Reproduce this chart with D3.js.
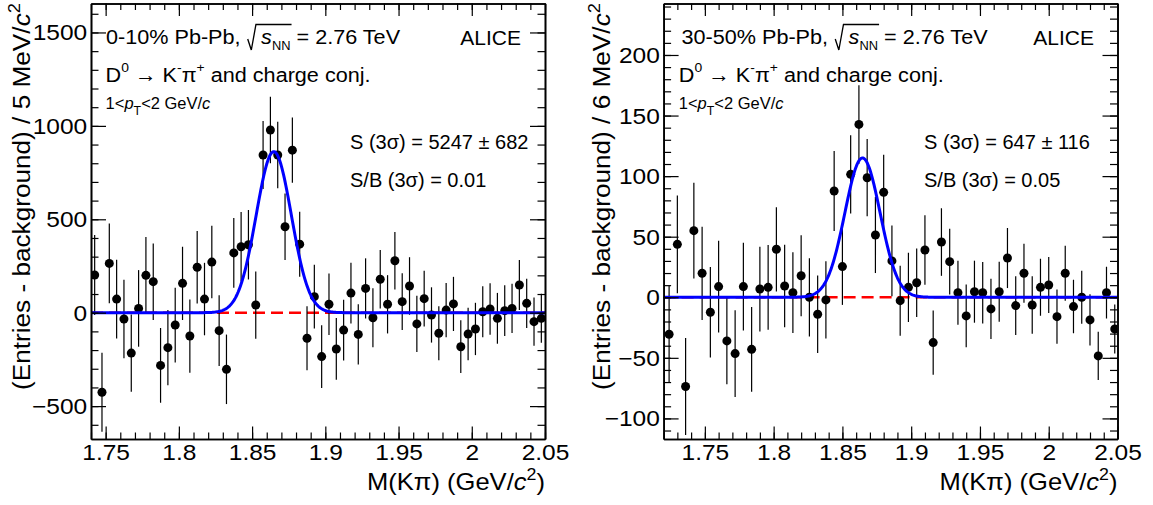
<!DOCTYPE html>
<html><head><meta charset="utf-8">
<script src="https://cdn.jsdelivr.net/npm/d3@7"></script>
<style>
html,body{margin:0;padding:0;background:#fff;}
svg{display:block;font-family:"Liberation Sans",Arial,Helvetica,sans-serif;}
text{white-space:pre;}
</style></head><body>
<svg id="chart" width="1153" height="505"></svg>
<script>
// ================= DATA =================
// Left panel: 0-10% Pb-Pb, bin width 5 MeV
const massLeft = [1.7425,1.7475,1.7525,1.7575,1.7625,1.7675,1.7725,1.7775,1.7825,1.7875,
  1.7925,1.7975,1.8025,1.8075,1.8125,1.8175,1.8225,1.8275,1.8325,1.8375,
  1.8425,1.8475,1.8525,1.8575,1.8625,1.8675,1.8725,1.8775,1.8825,1.8875,
  1.8925,1.8975,1.9025,1.9075,1.9125,1.9175,1.9225,1.9275,1.9325,1.9375,
  1.9425,1.9475,1.9525,1.9575,1.9625,1.9675,1.9725,1.9775,1.9825,1.9875,
  1.9925,1.9975,2.0025,2.0075,2.0125,2.0175,2.0225,2.0275,2.0325,2.0375,
  2.0425,2.0475];
const countsLeft = [202,-426,264,73,-34,-216,23,200,166,-282,
  -187,-66,157,-125,243,73,271,-96,-303,320,
  353,364,41,844,978,844,460,870,367,-137,
  86,-235,45,-194,-93,105,-116,130,-27,179,
  45,278,59,143,-60,75,-12,-110,14,47,
  -182,-114,-87,5,20,-30,11,23,148,50,
  -48,-30];
const errorsLeft = [214,211,214,211,210,207,205,205,205,200,
  201,200,196,196,194,194,194,189,186,187,
  186,186,180,182,178,178,178,175,174,171,
  170,168,165,165,163,163,161,161,158,156,
  156,154,152,154,151,149,148,145,145,145,
  141,140,140,137,138,136,136,132,134,132,
  129,131];
const fitLeft = {amp: 862, mean: 1.8648, sigma: 0.0120};

// Right panel: 30-50% Pb-Pb, bin width 6 MeV
const massRight = [1.724,1.730,1.736,1.742,1.748,1.754,1.760,1.766,1.772,1.778,
  1.784,1.790,1.796,1.802,1.808,1.814,1.820,1.826,1.832,1.838,
  1.844,1.850,1.856,1.862,1.868,1.874,1.880,1.886,1.892,1.898,
  1.904,1.910,1.916,1.922,1.928,1.934,1.940,1.946,1.952,1.958,
  1.964,1.970,1.976,1.982,1.988,1.994,2.000,2.006,2.012,2.018,
  2.024,2.030,2.036,2.042,2.048];
const countsRight = [-30.5,43.7,-73.7,55,19.8,-12.4,8.8,-36,-46.5,8.8,
  -43,6.8,8.2,39.6,9.3,3.8,17.8,0,-14,-2.2,
  87.7,25.3,101.5,142.7,98.7,51.4,86.6,30,-2.8,8.2,
  12,39,-37.4,45.6,29.4,3.8,-15.4,4.6,3.8,-9.6,
  4.6,32.4,-6.9,19.8,-6.4,8.2,10.1,-16,19.8,-7.7,
  0,-18.7,-48.4,3.8,-26.2];
const errorsRight = [39.7,40.3,40,39.5,38.5,37.4,37.8,35.8,35.8,36.2,
  35,35,35,34.8,34,33.3,33.4,32.3,32,31.9,
  33,31.6,32.3,32.4,31.9,31.4,31,29.2,28.9,28.6,
  28.2,28.6,26.5,27.9,27.1,26.4,25.9,25.6,25.4,24.9,
  24.8,24.8,24.3,24.3,23.7,23.5,23.1,22.4,22.7,22.1,
  21.9,21.2,19.9,21.3,20.2];
const fitRight = {amp: 115, mean: 1.8646, sigma: 0.0128};

// Tick values / labels
const xMajorTicks = [1.75,1.8,1.85,1.9,1.95,2,2.05];
const xTickLabels = ["1.75","1.8","1.85","1.9","1.95","2","2.05"];
const yMajorLeft = [-500,0,500,1000,1500];
const yLabelsLeft = ["\u2212500","0","500","1000","1500"];
const yMajorRight = [-100,-50,0,50,100,150,200];
const yLabelsRight = ["\u2212100","\u221250","0","50","100","150","200"];

// Texts
const centralityLeft = "0-10% Pb-Pb, ";
const centralityRight = "30-50% Pb-Pb, ";
const signalLeft = "S (3\u03c3) = 5247 \u00b1 682";
const sbLeft = "S/B (3\u03c3) = 0.01";
const signalRight = "S (3\u03c3) = 647 \u00b1 116";
const sbRight = "S/B (3\u03c3) = 0.05";
const yTitleLeft = "(Entries - background) / 5 MeV/";
const yTitleRight = "(Entries - background) / 6 MeV/";

// ================= DRAWING =================
const FONT = '"Liberation Sans", Arial, Helvetica, sans-serif';
const SX = 1.14;
const svg = d3.select('#chart');

function rich(parent, segs, opts) {
  const outer = parent.append('g');
  const inner = outer.append('g');
  let cx = 0; const marks = {};
  for (const s of segs) {
    if (s.gap) { marks[s.mark] = cx; cx += s.gap; continue; }
    const t = inner.append('text').attr('x', cx).attr('y', s.dy || 0)
      .attr('font-size', s.size).attr('font-family', FONT).attr('fill', '#000').text(s.t);
    if (s.italic) t.attr('font-style', 'italic');
    cx += t.node().getComputedTextLength();
    if (s.markEnd) marks[s.markEnd] = cx;
  }
  let sx = opts.sx || 1;
  if (opts.width) sx = opts.width / cx;
  const off = opts.anchor === 'end' ? -cx * sx : 0;
  outer.attr('transform', `translate(${opts.x},${opts.y})` + (opts.rotate ? ` rotate(${opts.rotate})` : ''));
  inner.attr('transform', `translate(${off},0) scale(${sx},1)`);
  return {inner, marks, width: cx};
}

function drawPanel(cfg) {
  const x = d3.scaleLinear().domain(cfg.xDomain).range([cfg.left, cfg.right]);
  const y = d3.scaleLinear().domain(cfg.yDomain).range([cfg.bottom, cfg.top]);
  const g = svg.append('g');
  const clipId = 'clip' + cfg.id;
  svg.append('clipPath').attr('id', clipId).append('rect')
    .attr('x', cfg.left).attr('y', cfg.top)
    .attr('width', cfg.right - cfg.left).attr('height', cfg.bottom - cfg.top);
  const plot = g.append('g').attr('clip-path', `url(#${clipId})`);

  // zero baseline (red dashed)
  plot.append('line')
    .attr('x1', x(cfg.xDomain[0])).attr('x2', x(cfg.xDomain[1]))
    .attr('y1', y(0)).attr('y2', y(0))
    .attr('stroke', '#ff0000').attr('stroke-width', 2.5).attr('stroke-dasharray', '12,6');

  // error bars
  plot.selectAll('line.err').data(cfg.mass).join('line').attr('class', 'err')
    .attr('x1', d => x(d)).attr('x2', d => x(d))
    .attr('y1', (d, i) => y(cfg.vals[i] - cfg.errs[i]))
    .attr('y2', (d, i) => y(cfg.vals[i] + cfg.errs[i]))
    .attr('stroke', '#000').attr('stroke-width', 1.2);
  // markers
  plot.selectAll('circle.pt').data(cfg.mass).join('circle').attr('class', 'pt')
    .attr('cx', d => x(d)).attr('cy', (d, i) => y(cfg.vals[i]))
    .attr('r', 4.5).attr('fill', '#000');

  // gaussian fit
  const f = cfg.fit;
  const xs = d3.range(cfg.xDomain[0], cfg.xDomain[1] + 1e-9, 0.0005);
  plot.append('path').datum(xs)
    .attr('d', d3.line().x(d => x(d)).y(d => y(f.amp * Math.exp(-0.5 * Math.pow((d - f.mean) / f.sigma, 2)))))
    .attr('fill', 'none').attr('stroke', '#0000ff').attr('stroke-width', 3);

  // axes (ROOT style: ticks inward on all four sides)
  const styleAxis = sel => {
    sel.selectAll('.domain').attr('stroke', '#000').attr('stroke-width', 1.6);
    sel.selectAll('.tick line').attr('stroke', '#000').attr('stroke-width', 1.2);
  };
  const xMinor = d3.range(Math.round(cfg.xDomain[0] * 100), Math.round(cfg.xDomain[1] * 100) + 1).map(v => v / 100);
  const yMinor = d3.range(cfg.yMinorStart, cfg.yDomain[1], cfg.yMinorStep);

  const bottom = g.append('g').attr('transform', `translate(0,${cfg.bottom})`);
  bottom.append('g').call(d3.axisBottom(x).tickValues(xMinor).tickSizeInner(-6.5).tickSizeOuter(0).tickFormat('')).call(styleAxis);
  const bMaj = bottom.append('g').call(d3.axisBottom(x).tickValues(xMajorTicks).tickSizeInner(-12.5).tickSizeOuter(0).tickPadding(6)
    .tickFormat((d, i) => xTickLabels[i])).call(styleAxis);
  bMaj.selectAll('text').attr('font-size', 21.5).attr('font-family', FONT).attr('fill', '#000')
    .attr('transform', `scale(${SX},1)`);

  const top = g.append('g').attr('transform', `translate(0,${cfg.top})`);
  top.append('g').call(d3.axisTop(x).tickValues(xMinor).tickSizeInner(-6.5).tickSizeOuter(0).tickFormat('')).call(styleAxis);
  top.append('g').call(d3.axisTop(x).tickValues(xMajorTicks).tickSizeInner(-12.5).tickSizeOuter(0).tickFormat('')).call(styleAxis);

  const left = g.append('g').attr('transform', `translate(${cfg.left},0)`);
  left.append('g').call(d3.axisLeft(y).tickValues(yMinor).tickSizeInner(-7.5).tickSizeOuter(0).tickFormat('')).call(styleAxis);
  const lMaj = left.append('g').call(d3.axisLeft(y).tickValues(cfg.yMajor).tickSizeInner(-15).tickSizeOuter(0).tickPadding(3.3)
    .tickFormat((d, i) => cfg.yLabels[i])).call(styleAxis);
  lMaj.selectAll('text').attr('font-size', 21.5).attr('font-family', FONT).attr('fill', '#000')
    .attr('dy', '0.35em').attr('transform', `scale(${SX},1)`);

  const right = g.append('g').attr('transform', `translate(${cfg.right},0)`);
  right.append('g').call(d3.axisRight(y).tickValues(yMinor).tickSizeInner(-7.5).tickSizeOuter(0).tickFormat('')).call(styleAxis);
  right.append('g').call(d3.axisRight(y).tickValues(cfg.yMajor).tickSizeInner(-15).tickSizeOuter(0).tickFormat('')).call(styleAxis);

  // axis titles
  rich(svg, [
    {t: "M(K\u03c0) (GeV/", size: 23},
    {t: "c", size: 23, italic: true},
    {t: "2", size: 16, dy: -10},
    {t: ")", size: 23}
  ], {x: cfg.right, y: 490, anchor: 'end', width: 178});
  rich(svg, [
    {t: cfg.yTitle, size: 23},
    {t: "c", size: 23, italic: true},
    {t: "2", size: 16, dy: -10}
  ], {x: cfg.yTitleX, y: 3, anchor: 'end', rotate: -90, width: 387});

  // annotations
  const hdr = rich(svg, [
    {t: cfg.centrality, size: 21},
    {gap: 14, mark: 'r0'},
    {t: "s", size: 21, italic: true},
    {t: "NN", size: 12.5, dy: 6, markEnd: 'r1'},
    {t: " = 2.76 TeV", size: 21}
  ], {x: cfg.hdrX, y: 44, sx: 1.03});
  const r0 = hdr.marks.r0, r1 = hdr.marks.r1;
  hdr.inner.append('path')
    .attr('d', `M${r0 + 1},-5 L${r0 + 4.5},6 L${r0 + 9},-19.5 L${r1 + 1},-19.5`)
    .attr('fill', 'none').attr('stroke', '#000').attr('stroke-width', 1.3);

  rich(svg, [{t: "ALICE", size: 21}], {x: cfg.aliceX, y: 44.5, anchor: 'end'});

  rich(svg, [
    {t: "D", size: 21},
    {t: "0", size: 13.5, dy: -10},
    {t: " \u2192 K", size: 21},
    {t: "-", size: 13.5, dy: -10},
    {t: "\u03c0", size: 21},
    {t: "+", size: 13.5, dy: -10},
    {t: " and charge conj.", size: 21}
  ], {x: cfg.dX, y: 81.5, sx: 1.03});

  rich(svg, [
    {t: "1<", size: 16},
    {t: "p", size: 16, italic: true},
    {t: "T", size: 12, dy: 6},
    {t: "<2 GeV/", size: 16},
    {t: "c", size: 16, italic: true}
  ], {x: cfg.dX, y: 109, sx: 1.03});

  rich(svg, [{t: cfg.signal, size: 20}], {x: cfg.sX, y: 149.3});
  rich(svg, [{t: cfg.sb, size: 20}], {x: cfg.sX, y: 186.7});
}

drawPanel({
  id: 'L', left: 91, right: 545, top: 3.5, bottom: 439,
  xDomain: [1.74, 2.05], yDomain: [-676, 1655],
  yMajor: yMajorLeft, yLabels: yLabelsLeft, yMinorStart: -600, yMinorStep: 100,
  mass: massLeft, vals: countsLeft, errs: errorsLeft, fit: fitLeft,
  yTitle: yTitleLeft, yTitleX: 30,
  centrality: centralityLeft, signal: signalLeft, sb: sbLeft,
  hdrX: 106, aliceX: 521, dX: 105.6, sX: 350
});
drawPanel({
  id: 'R', left: 663.6, right: 1117.5, top: 3.5, bottom: 439,
  xDomain: [1.72, 2.05], yDomain: [-117, 242.5],
  yMajor: yMajorRight, yLabels: yLabelsRight, yMinorStart: -110, yMinorStep: 10,
  mass: massRight, vals: countsRight, errs: errorsRight, fit: fitRight,
  yTitle: yTitleRight, yTitleX: 609.5,
  centrality: centralityRight, signal: signalRight, sb: sbRight,
  hdrX: 681.5, aliceX: 1094, dX: 678.8, sX: 924
});
</script>
</body></html>
